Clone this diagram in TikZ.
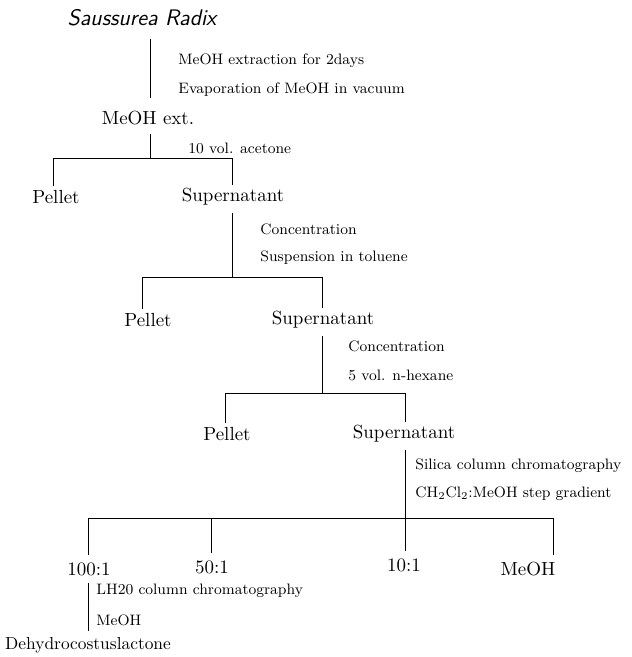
\documentclass[tikz,border=0pt]{standalone}
\usetikzlibrary{positioning}

\begin{document}
\begin{tikzpicture}[x=0.02cm, y=-0.02cm, line width=0.5pt,
    stage/.style={inner sep=0pt, font=\fontsize{10.8}{13}\selectfont},
    cond/.style={anchor=west, inner sep=0pt, font=\fontsize{8.6}{11}\selectfont}]
    \useasboundingbox (0,0) rectangle (632,657);
    % fractions
    \node[inner sep=0pt, font=\sffamily\slshape\fontsize{12.8}{15}\selectfont] (radix) at (142,18) {Saussurea Radix};
    \node[stage] (ext) at (148,118) {MeOH ext.};
    \node[stage] (pel1) at (56,197) {Pellet};
    \node[stage] (sup1) at (233,197) {Supernatant};
    \node[stage] (pel2) at (148,320) {Pellet};
    \node[stage] (sup2) at (323,320) {Supernatant};
    \node[stage] (pel3) at (227,434) {Pellet};
    \node[stage] (sup3) at (404,434) {Supernatant};
    \node[stage] (f1) at (89,569) {100:1};
    \node[stage] (f2) at (212,567) {50:1};
    \node[stage] (f3) at (404,565) {10:1};
    \node[stage] (f4) at (528,569) {MeOH};
    \node[stage, font=\fontsize{9.9}{12}\selectfont] (dhc) at (88,645) {Dehydrocostuslactone};
    % conditions
    \node[cond] (c1a) at (178,61) {MeOH extraction for 2days};
    \node[cond] (c1b) at (178,90) {Evaporation of MeOH in vacuum};
    \node[cond] (c2) at (188,148) {10 vol. acetone};
    \node[cond] (c3a) at (260,229) {Concentration};
    \node[cond] (c3b) at (260,258) {Suspension in toluene};
    \node[cond] (c4a) at (348,346) {Concentration};
    \node[cond] (c4b) at (348,375) {5 vol. n-hexane};
    \node[cond] (c5a) at (415,466) {Silica column chromatography};
    \node[cond] (c5b) at (415,494) {CH$_2$Cl$_2$:MeOH step gradient};
    \node[cond] (c6a) at (96,591) {LH20 column chromatography};
    \node[cond] (c6b) at (96,620) {MeOH};
    % branch points
    \coordinate (b1) at (150,158);
    \coordinate (b2) at (232,277);
    \coordinate (b3) at (322,393);
    \coordinate (b4) at (405,518);
    \coordinate (d1) at (88,518);
    \coordinate (d2) at (211,518);
    \coordinate (d4) at (553,518);
    % lines
    \draw[shorten <=7pt, shorten >=7pt] (radix.south -| b1) -- (ext.north -| b1);
    \draw[shorten <=5pt] (ext.south -| b1) -- (b1);
    \draw[shorten >=2pt] (b1) -| (pel1.north -| 53,0);
    \draw[shorten >=2pt] (b1) -| (sup1.north -| b2);
    \draw[shorten <=4pt] (sup1.south -| b2) -- (b2);
    \draw[shorten >=2pt] (b2) -| (pel2.north -| 142,0);
    \draw[shorten >=2pt] (b2) -| (sup2.north -| b3);
    \draw[shorten <=4pt] (sup2.south -| b3) -- (b3);
    \draw[shorten >=2pt] (b3) -| (pel3.north -| 225,0);
    \draw[shorten >=2pt] (b3) -| (sup3.north -| b4);
    \draw[shorten <=4pt] (sup3.south -| b4) -- (b4);
    \draw (d1) -- (d4);
    \draw[shorten >=4pt] (d1) -- (f1.north -| d1);
    \draw[shorten >=4pt] (d2) -- (f2.north -| d2);
    \draw[shorten >=4pt] (b4) -- (f3.north -| b4);
    \draw[shorten >=4pt] (d4) -- (f4.north -| d4);
    \draw[shorten <=4pt, shorten >=3pt] (f1.south -| d1) -- (dhc.north -| d1);
\end{tikzpicture}
\end{document}
